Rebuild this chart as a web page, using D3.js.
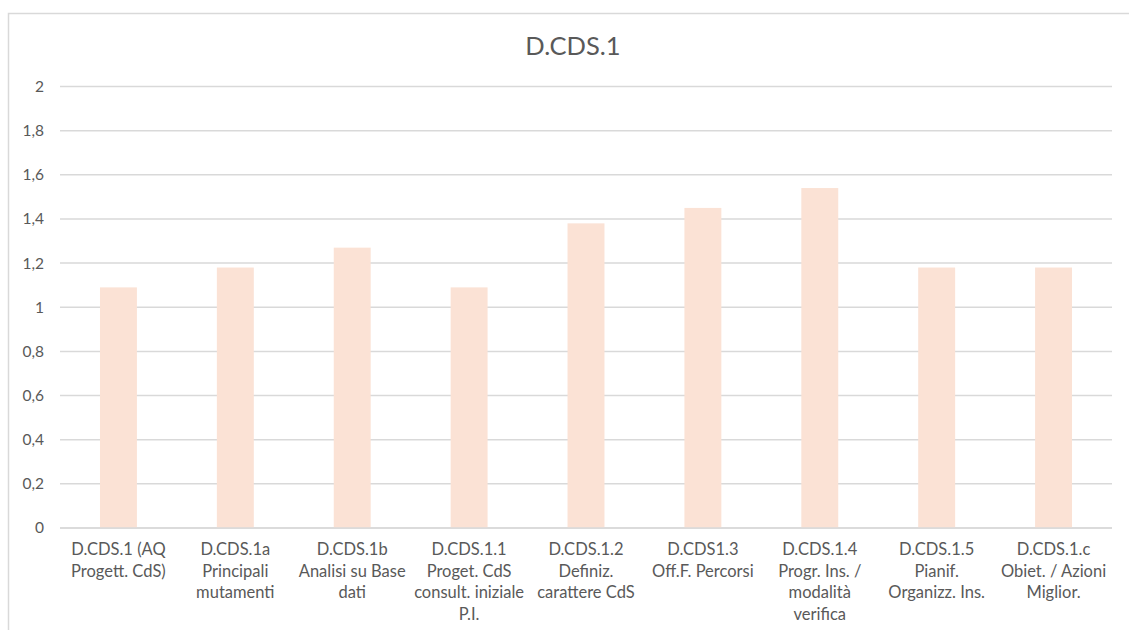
<!DOCTYPE html>
<html>
<head>
<meta charset="utf-8">
<script src="https://cdn.jsdelivr.net/npm/d3@7"></script>
<style>
  html, body { margin: 0; padding: 0; background: #fff; }
  svg { display: block; font-family: "Lato", "Open Sans", sans-serif; }
</style>
</head>
<body>
<svg id="chart" width="1129" height="630"></svg>
<script>
const title = "D.CDS.1";
const categories = [
  "D.CDS.1 (AQ|Progett. CdS)",
  "D.CDS.1a|Principali|mutamenti",
  "D.CDS.1b|Analisi su Base|dati",
  "D.CDS.1.1|Proget. CdS|consult. iniziale|P.I.",
  "D.CDS.1.2|Definiz.|carattere CdS",
  "D.CDS1.3|Off.F. Percorsi",
  "D.CDS.1.4|Progr. Ins. /|modalità|verifica",
  "D.CDS.1.5|Pianif.|Organizz. Ins.",
  "D.CDS.1.c|Obiet. / Azioni|Miglior."
];
const values = [1.09, 1.18, 1.27, 1.09, 1.38, 1.45, 1.54, 1.18, 1.18];
const yTicks = [0, 0.2, 0.4, 0.6, 0.8, 1, 1.2, 1.4, 1.6, 1.8, 2];

const svg = d3.select("#chart");
const margin = { left: 60, right: 17, top: 86.5, bottom: 102 };
const W = 1129, H = 630;

// outer frame
svg.append("rect")
  .attr("x", 8.5).attr("y", 13.5)
  .attr("width", 1140).attr("height", 640)
  .attr("fill", "#fff").attr("stroke", "#d9d9d9").attr("stroke-width", 1.5);

const x = d3.scaleBand()
  .domain(categories)
  .range([margin.left, W - margin.right])
  .paddingInner(0.684).paddingOuter(0.342);

const y = d3.scaleLinear().domain([0, 2]).range([H - margin.bottom, margin.top]);

// gridlines
svg.append("g").selectAll("line").data(yTicks).join("line")
  .attr("x1", margin.left).attr("x2", W - margin.right)
  .attr("y1", d => y(d)).attr("y2", d => y(d))
  .attr("stroke", "#d9d9d9").attr("stroke-width", 1.5);

// y tick labels
const fmt = d => String(d).replace(".", ",");
svg.append("g").selectAll("text").data(yTicks).join("text")
  .attr("x", 44).attr("y", d => y(d)).attr("dy", "0.35em")
  .attr("text-anchor", "end")
  .attr("font-size", 15.5).attr("fill", "#595959")
  .text(fmt);

// bars
svg.append("g").selectAll("rect").data(values).join("rect")
  .attr("x", (d, i) => x(categories[i]))
  .attr("width", x.bandwidth())
  .attr("y", d => y(d))
  .attr("height", d => y(0) - y(d))
  .attr("fill", "#fbe2d5");

// x axis line
svg.append("line")
  .attr("x1", margin.left).attr("x2", W - margin.right)
  .attr("y1", y(0)).attr("y2", y(0))
  .attr("stroke", "#d9d9d9").attr("stroke-width", 1.5);

// category labels
const lab = svg.append("g").selectAll("text").data(categories).join("text")
  .attr("x", d => x(d) + x.bandwidth() / 2)
  .attr("y", 555)
  .attr("text-anchor", "middle")
  .attr("font-size", 16.5).attr("fill", "#595959");
lab.each(function(d) {
  const t = d3.select(this);
  d.split("|").forEach((line, i) => {
    t.append("tspan")
      .attr("x", x(d) + x.bandwidth() / 2)
      .attr("dy", i === 0 ? 0 : 21.5)
      .text(line);
  });
});

// title
svg.append("text")
  .attr("x", 573).attr("y", 55)
  .attr("text-anchor", "middle")
  .attr("font-size", 25.5).attr("fill", "#595959")
  .text(title);
</script>
</body>
</html>
